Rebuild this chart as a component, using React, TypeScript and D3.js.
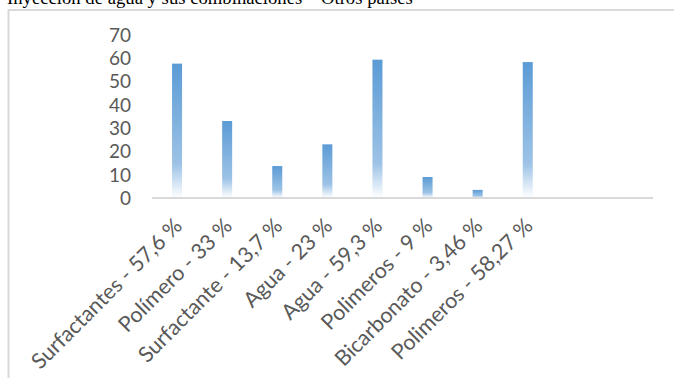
import React from "react";
import * as d3 from "d3";

const title = "Inyección de agua y sus combinaciones – Otros países";
const categories = [
  "Surfactantes - 57,6 %",
  "Polímero - 33 %",
  "Surfactante - 13,7 %",
  "Agua - 23 %",
  "Agua - 59,3 %",
  "Polimeros - 9 %",
  "Bicarbonato - 3,46 %",
  "Polimeros - 58,27 %",
  "",
  "",
];
const values = [57.6, 33, 13.7, 23, 59.3, 9, 3.46, 58.27];
const yTicks = [0, 10, 20, 30, 40, 50, 60, 70];

const W = 674;
const H = 378;

export default function App() {
  const x = d3
    .scaleBand<number>()
    .domain(d3.range(categories.length))
    .range([152, 653])
    .paddingInner(0.8)
    .paddingOuter(0.4);
  const y = d3.scaleLinear().domain([0, 70]).range([198, 34.7]);
  const fontFamily = "Lato, 'Open Sans', sans-serif";
  const grey = "#595959";

  return (
    <svg
      width={W}
      height={H}
      style={{ position: "absolute", left: 0, top: 0, background: "#fff" }}
    >
      <defs>
        <linearGradient id="barFill" x1="0" y1="0" x2="0" y2="1">
          <stop offset="0%" stopColor="#5B9BD5" />
          <stop offset="75%" stopColor="#9DC3E6" />
          <stop offset="100%" stopColor="#FFFFFF" />
        </linearGradient>
      </defs>

      <text
        x={7}
        y={4}
        fontFamily="'Liberation Serif', 'Times New Roman', serif"
        fontSize={18.7}
        fill="#000"
      >
        {title}
      </text>

      {/* chart area frame */}
      <path
        d={`M8.5,${H} L8.5,10 L${W},10`}
        fill="none"
        stroke="#D9D9D9"
        strokeWidth={2}
      />

      {/* y tick labels */}
      {yTicks.map((t) => (
        <text
          key={t}
          x={131}
          y={y(t)}
          dy="0.36em"
          textAnchor="end"
          fontFamily={fontFamily}
          fontSize={19}
          fill={grey}
        >
          {t}
        </text>
      ))}

      {/* bars */}
      {values.map((v, i) => (
        <rect
          key={i}
          x={x(i)}
          y={y(v)}
          width={x.bandwidth()}
          height={y(0) - y(v)}
          fill="url(#barFill)"
        />
      ))}

      {/* x axis line */}
      <line x1={152} x2={653} y1={y(0)} y2={y(0)} stroke="#D9D9D9" strokeWidth={2} />

      {/* rotated category labels */}
      {categories.map((c, i) =>
        c ? (
          <text
            key={i}
            transform={`translate(${x(i)! + x.bandwidth() / 2 + 1},${y(0) + 24}) rotate(-45)`}
            dy="0.35em"
            textAnchor="end"
            fontFamily={fontFamily}
            fontSize={21.5}
            fill={grey}
          >
            {c}
          </text>
        ) : null
      )}
    </svg>
  );
}
